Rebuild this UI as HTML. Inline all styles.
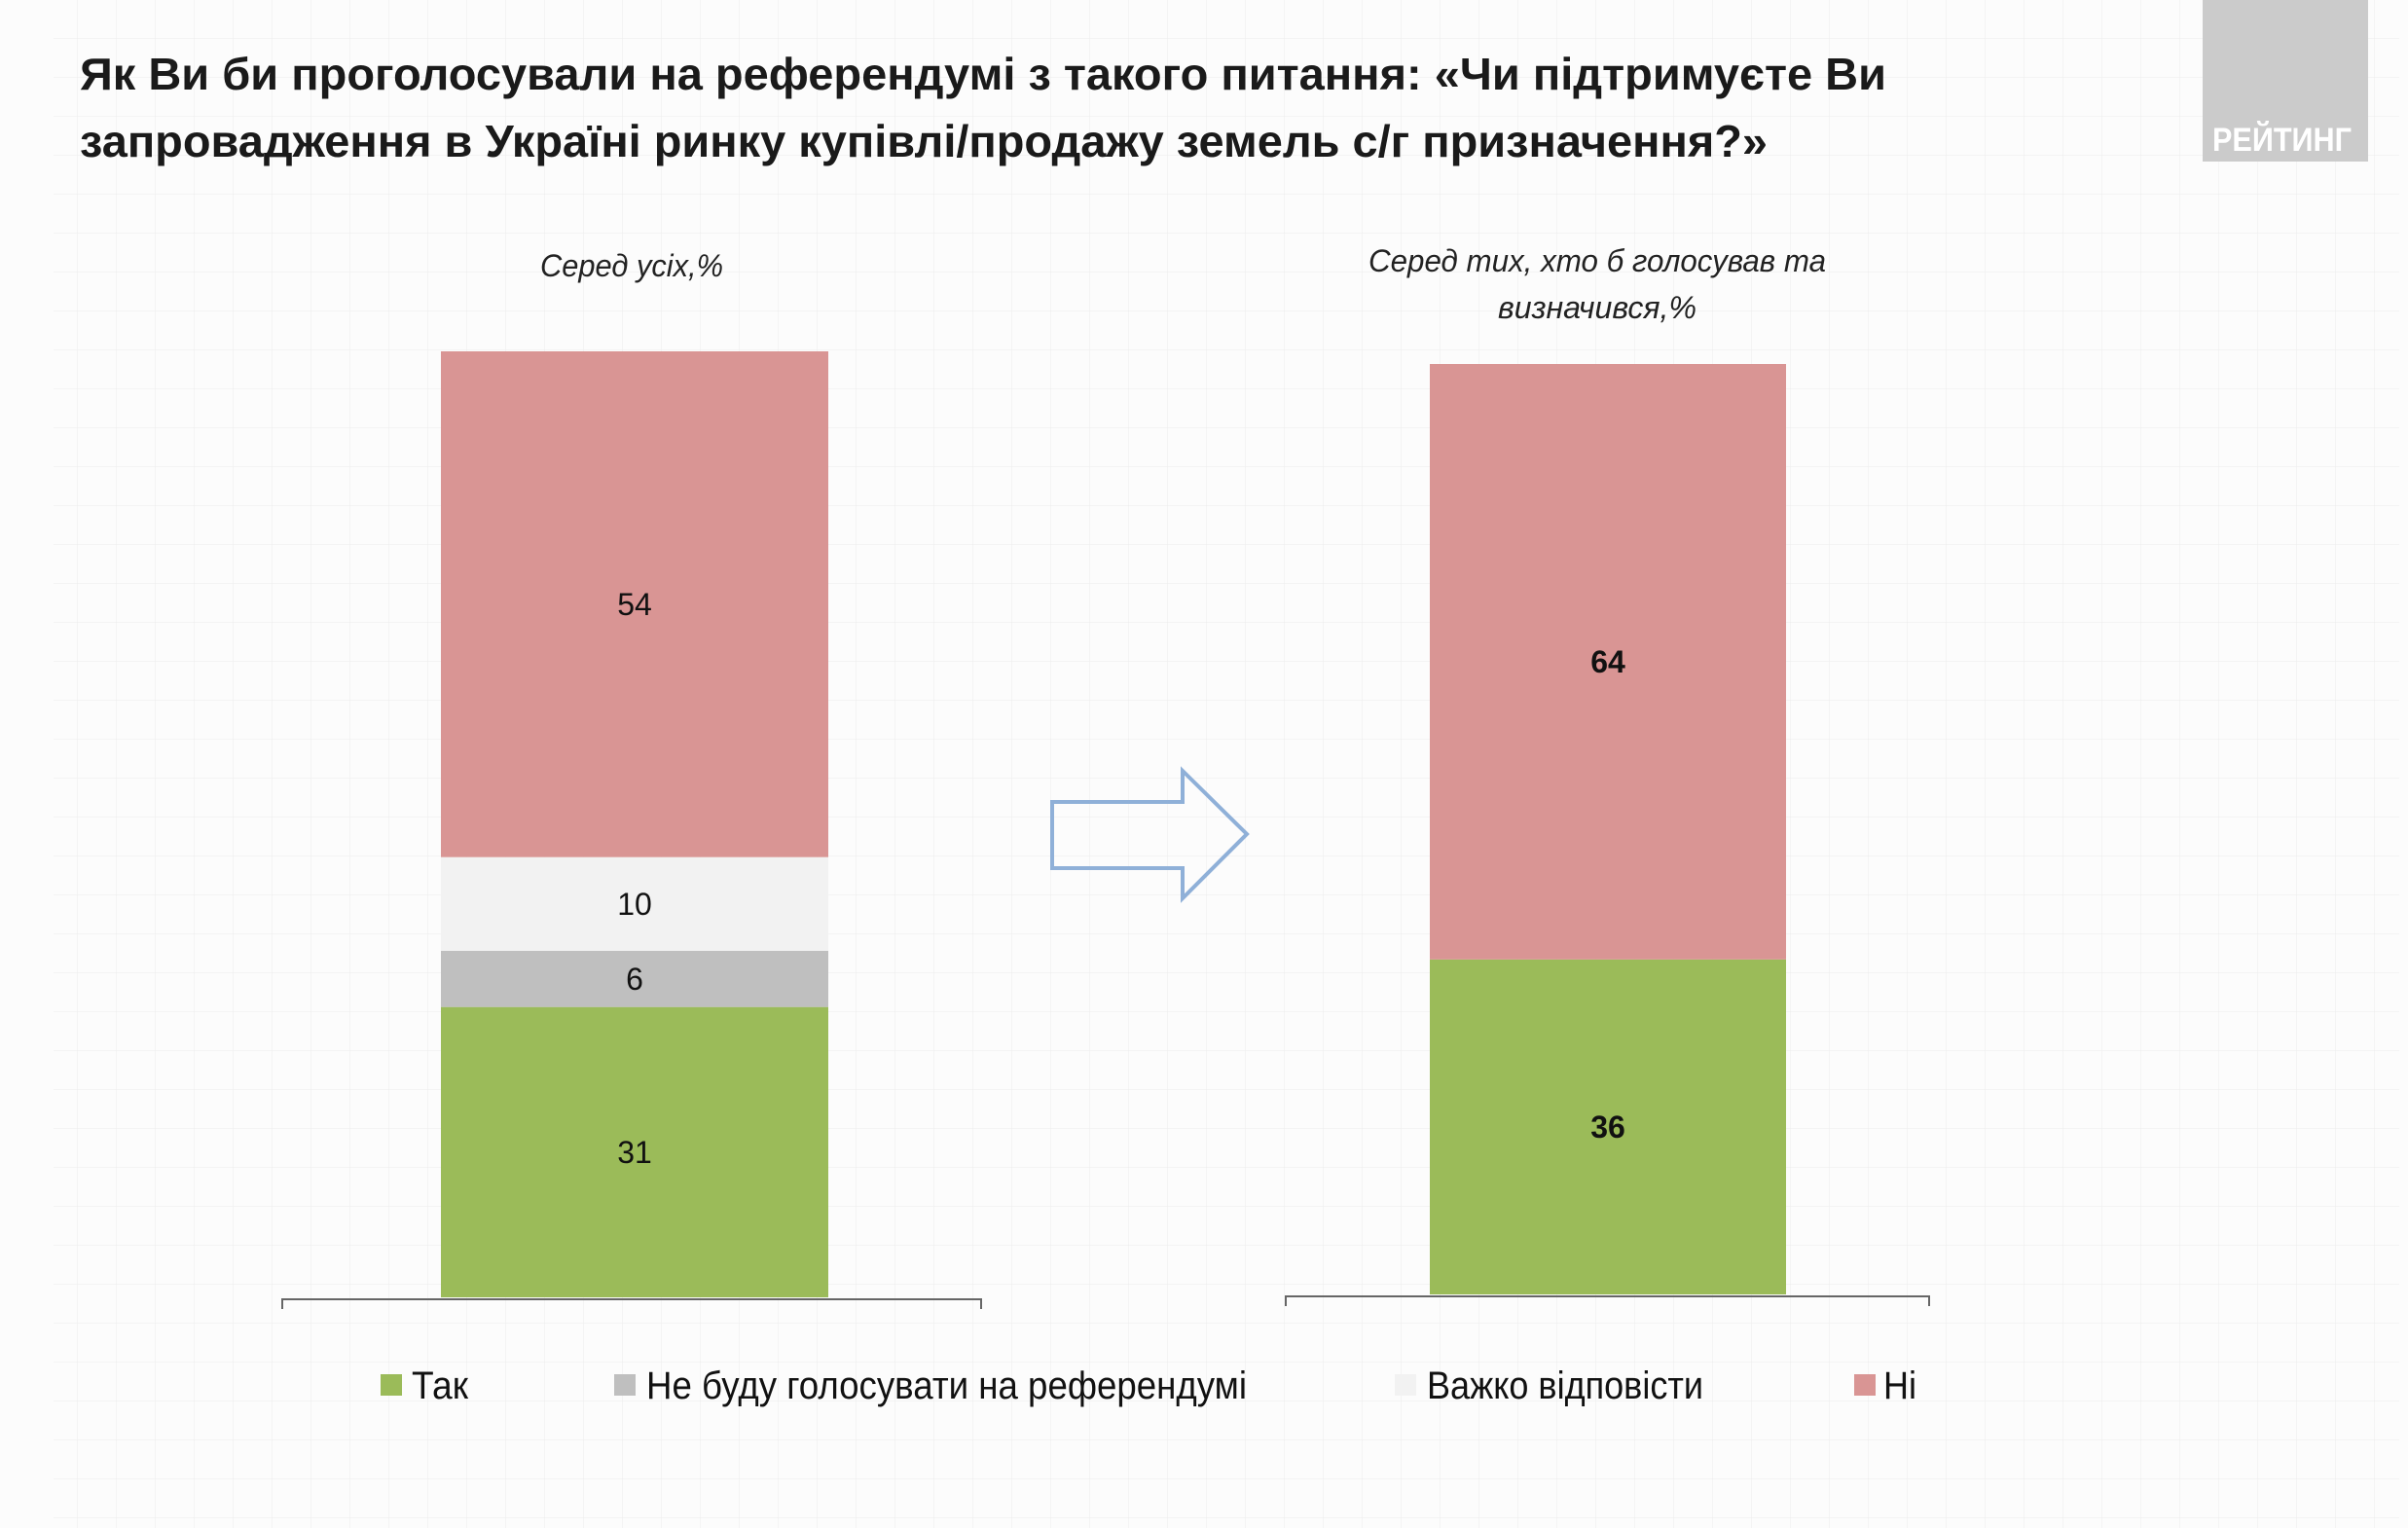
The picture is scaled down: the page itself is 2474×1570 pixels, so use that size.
<!DOCTYPE html>
<html><head><meta charset="utf-8"><style>
html,body{margin:0;padding:0;background:#fff}
svg{display:block}
text{font-family:"Liberation Sans Narrow","Liberation Sans",sans-serif}
</style></head><body>
<svg id="chart" width="2474" height="1570" viewBox="0 0 2474 1570" xmlns="http://www.w3.org/2000/svg">
<defs>
<pattern id="grid" width="40" height="40" patternUnits="userSpaceOnUse">
<path d="M40 0V40M0 40H40" stroke="#ececec" stroke-width="1" fill="none"/>
</pattern>
</defs>
<rect x="0" y="0" width="2474" height="1570" fill="#fcfcfc"/>
<rect x="55" y="0" width="2410" height="1570" fill="url(#grid)"/>
<g font-weight="bold" font-size="46" fill="#1a1a1a">
<text x="82" y="92" textLength="1856" lengthAdjust="spacingAndGlyphs">Як Ви би проголосували на референдумі з такого питання: «Чи підтримуєте Ви</text>
<text x="82" y="161" textLength="1734" lengthAdjust="spacingAndGlyphs">запровадження в Україні ринку купівлі/продажу земель с/г призначення?»</text>
</g>
<g>
<rect x="2263" y="0" width="170" height="166" fill="#cbcbcb"/>
<text x="2273" y="155" font-size="34" font-weight="bold" fill="#fff" textLength="143" lengthAdjust="spacingAndGlyphs">РЕЙТИНГ</text>
</g>
<g font-style="italic" font-size="32" fill="#222" text-anchor="middle">
<text x="649" y="284" textLength="188" lengthAdjust="spacingAndGlyphs">Серед усіх,%</text>
<text x="1641" y="279" textLength="470" lengthAdjust="spacingAndGlyphs">Серед тих, хто б голосував та</text>
<text x="1641" y="327" textLength="204" lengthAdjust="spacingAndGlyphs">визначився,%</text>
</g>
<g id="bars"></g>
<path d="M1081 824 H1215 V792 L1281 857 L1215 923 V892 H1081 Z" fill="none" stroke="#8fb0d8" stroke-width="4"/>
<g id="axes" stroke="#666" stroke-width="2" fill="none">
<path d="M290 1345 V1335 H1008 V1345"/>
<path d="M1321 1342 V1332 H1982 V1342"/>
</g>
<g id="legend"></g>
</svg>
<script>
const categories = ["Так", "Не буду голосувати на референдумі", "Важко відповісти", "Ні"];
const colors = ["#9bbb59", "#bfbfbf", "#f2f2f2", "#d99594"];
const leftValues = [31, 6, 10, 54];
const rightValues = [36, 0, 0, 64];
const leftLabels = ["31", "6", "10", "54"];
const rightLabels = ["36", "", "", "64"];

const NS = "http://www.w3.org/2000/svg";
const barsG = document.getElementById("bars");
const PX_PER_UNIT_L = 972 / 101;
const PX_PER_UNIT_R = 956 / 100;
function yScale(base, ppu, v) { return base - v * ppu; }

function drawBar(values, labels, x0, w, base, ppu, bold, side) {
  let cum = 0;
  values.forEach((v, i) => {
    if (v <= 0) return;
    const yTop = yScale(base, ppu, cum + v);
    const yBot = yScale(base, ppu, cum);
    const r = document.createElementNS(NS, "rect");
    r.setAttribute("x", x0); r.setAttribute("y", yTop);
    r.setAttribute("width", w); r.setAttribute("height", yBot - yTop);
    r.setAttribute("fill", colors[i]);
    
    
    barsG.appendChild(r);
    if (labels[i]) {
      const t = document.createElementNS(NS, "text");
      t.setAttribute("x", x0 + w / 2);
      t.setAttribute("y", (yTop + yBot) / 2 + 11);
      t.setAttribute("text-anchor", "middle");
      t.setAttribute("font-size", "32");
      if (bold) t.setAttribute("font-weight", "bold");
      t.setAttribute("fill", "#111");
      t.textContent = labels[i];
      
      
      barsG.appendChild(t);
    }
    cum += v;
  });
}
drawBar(leftValues, leftLabels, 453, 398, 1333, PX_PER_UNIT_L, false, "left");
drawBar(rightValues, rightLabels, 1469, 366, 1330, PX_PER_UNIT_R, true, "right");

const legendG = document.getElementById("legend");
const legSq = [391, 631, 1433, 1905];
const legTxtX = [423, 664, 1466, 1935];
const legTxtW = [58, 617, 284, 34];
categories.forEach((c, i) => {
  const s = document.createElementNS(NS, "rect");
  s.setAttribute("x", legSq[i]); s.setAttribute("y", 1412);
  s.setAttribute("width", 22); s.setAttribute("height", 22);
  s.setAttribute("fill", colors[i]);
  
  
  legendG.appendChild(s);
  const t = document.createElementNS(NS, "text");
  t.setAttribute("x", legTxtX[i]); t.setAttribute("y", 1437);
  t.setAttribute("font-size", "40"); t.setAttribute("fill", "#111");
  t.setAttribute("textLength", legTxtW[i]);
  t.setAttribute("lengthAdjust", "spacingAndGlyphs");
  t.textContent = c;
  
  
  legendG.appendChild(t);
});
</script>
</body></html>
